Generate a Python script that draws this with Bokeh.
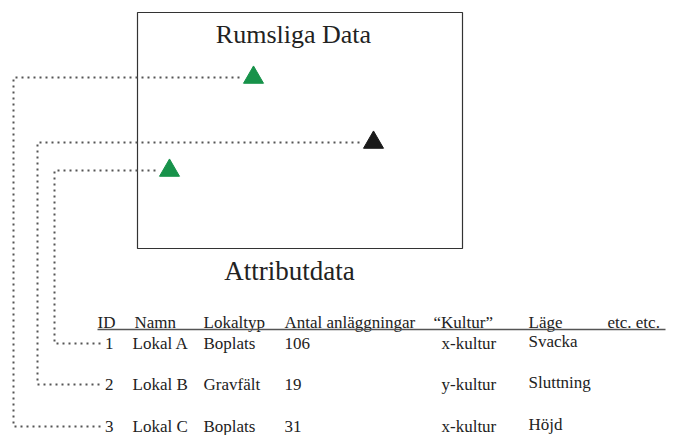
from bokeh.plotting import figure
from bokeh.models import Range1d
from bokeh.embed import file_html
from bokeh.resources import INLINE
from bokeh.core.properties import value

# --- data -------------------------------------------------------------
ids = ["1", "2", "3"]
names = ["Lokal A", "Lokal B", "Lokal C"]
types = ["Boplats", "Gravfält", "Boplats"]
counts = ["106", "19", "31"]
cultures = ["x-kultur", "y-kultur", "x-kultur"]
positions_terrain = ["Svacka", "Sluttning", "Höjd"]
headers = ["ID", "Namn", "Lokaltyp", "Antal anläggningar", "“Kultur”", "Läge", "etc.  etc."]

# site locations on the map (map coordinates)
site_x = [169, 373, 253]
site_y = [170, 142, 77]
site_colors = ["#17924a", "#1a1a1a", "#17924a"]

# --- layout -----------------------------------------------------------
FONT = value("Liberation Serif")
TXT = "#222222"
FS = "17px"
p = figure(width=678, height=435, output_backend="svg", toolbar_location=None,
           x_range=Range1d(0, 678), y_range=Range1d(435, 0), min_border=0)
p.axis.visible = False
p.grid.visible = False
p.outline_line_color = None
p.background_fill_color = "white"

# map box
p.quad(left=[137], right=[462], top=[12], bottom=[248], fill_color=None,
       line_color="#333333", line_width=1.2)
p.text(x=[293], y=[34], text=["Rumsliga Data"], text_font=FONT, text_font_size="26px",
       text_align="center", text_baseline="middle", text_color=TXT)
p.text(x=[289], y=[270], text=["Attributdata"], text_font=FONT, text_font_size="27px",
       text_align="center", text_baseline="middle", text_color=TXT)

# table
col_x = [97, 134, 203, 284, 433, 528, 607]
header_y = 322
p.text(x=col_x, y=[header_y] * len(col_x), text=headers, text_font=FONT,
       text_font_size=FS, text_align="left", text_baseline="middle", text_color=TXT)
p.line(x=[97, 665], y=[329, 329], line_color="#555555", line_width=1.5)

row_y = [343, 384, 426]
p.text(x=[113] * 3, y=row_y, text=ids, text_font=FONT, text_font_size=FS,
       text_align="right", text_baseline="middle", text_color=TXT)
p.text(x=[132] * 3, y=row_y, text=names, text_font=FONT, text_font_size=FS,
       text_align="left", text_baseline="middle", text_color=TXT)
p.text(x=[203] * 3, y=row_y, text=types, text_font=FONT, text_font_size=FS,
       text_align="left", text_baseline="middle", text_color=TXT)
p.text(x=[284] * 3, y=row_y, text=counts, text_font=FONT, text_font_size=FS,
       text_align="left", text_baseline="middle", text_color=TXT)
p.text(x=[441] * 3, y=row_y, text=cultures, text_font=FONT, text_font_size=FS,
       text_align="left", text_baseline="middle", text_color=TXT)
p.text(x=[528] * 3, y=[r - 2 for r in row_y], text=positions_terrain, text_font=FONT,
       text_font_size=FS, text_align="left", text_baseline="middle", text_color=TXT)

# dotted connectors: map point -> left gutter -> table row
gutter_x = [54, 37, 13]
for sx, sy, gx, ry in zip(site_x, site_y, gutter_x, row_y):
    p.line(x=[sx - 14, gx, gx, 102], y=[sy, sy, ry, ry], line_color="#555555",
           line_width=2, line_dash="2 4")

# map points
p.scatter(x=site_x, y=site_y, marker="triangle", size=20, fill_color=site_colors,
          line_color=site_colors)

open("out.html", "w").write(file_html(p, INLINE))
